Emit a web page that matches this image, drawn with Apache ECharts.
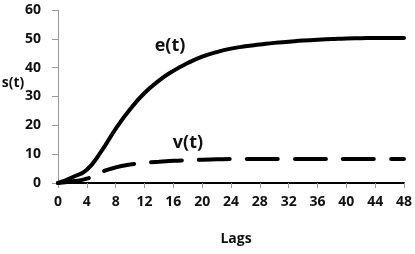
<!DOCTYPE html>
<html>
<head>
<meta charset="utf-8">
<script src="https://cdn.jsdelivr.net/npm/echarts@6/dist/echarts.min.js"></script>
<style>html,body{margin:0;padding:0;background:#fff}#c{width:415px;height:254px}</style>
</head>
<body>
<div id="c"></div>
<script>
var lags = [0,2,4,6,8,10,12,14,16,18,20,22,24,26,28,30,32,34,36,38,40,42,44,46,48];
var eValues = [0,2.0,4.6,11.0,18.8,25.6,31.2,35.5,38.9,41.6,43.8,45.4,46.6,47.4,48.0,48.6,49.0,49.4,49.7,49.9,50.1,50.2,50.3,50.3,50.3];
var vLags = [0,2,4,6,8,10,12,14,16,18,20,22,24,28,32,36,40,44,48];
var vValues = [0,0.6,1.5,3.8,5.4,6.4,7.0,7.4,7.7,7.9,8.1,8.2,8.3,8.3,8.3,8.3,8.3,8.3,8.3];
var xTicks = {min:0, max:48, step:4};
var yTicks = {min:0, max:60, step:10};
var seriesNames = ['e(t)','v(t)'];
var axisTitles = {x:'Lags', y:'s(t)'};

var font = '"Open Sans", "Liberation Sans", sans-serif';
var chart = echarts.init(document.getElementById('c'), null, {renderer:'canvas'});
chart.setOption({
  animation:false,
  grid:{left:58, right:10, top:10, bottom:71},
  xAxis:{type:'value', min:xTicks.min, max:xTicks.max, interval:xTicks.step,
    axisLine:{lineStyle:{color:'#000', width:2}},
    axisTick:{show:true, length:5, lineStyle:{color:'#999'}},
    splitLine:{show:false},
    axisLabel:{color:'#111', fontWeight:'bold', fontSize:14, fontFamily:font, margin:12}},
  yAxis:{type:'value', min:yTicks.min, max:yTicks.max, interval:yTicks.step,
    axisLine:{show:true, lineStyle:{color:'#999', width:1}},
    axisTick:{show:true, length:6, lineStyle:{color:'#999'}},
    splitLine:{show:false},
    axisLabel:{color:'#111', fontWeight:'bold', fontSize:14, fontFamily:font, margin:17}},
  series:[
    {name:seriesNames[0], type:'line', smooth:0.5, symbol:'none',
      data:lags.map(function(t,i){return [t,eValues[i]];}),
      lineStyle:{color:'#000', width:4, cap:'round'}},
    {name:seriesNames[1], type:'line', smooth:0.5, symbol:'none',
      data:vLags.map(function(t,i){return [t,vValues[i]];}),
      lineStyle:{color:'#000', width:4, type:[31,17], cap:'round'}}
  ],
  graphic:[
    {type:'text', x:170, y:46, style:{text:seriesNames[0], font:'bold 18px '+font, fill:'#111', align:'center', verticalAlign:'middle'}},
    {type:'text', x:188, y:143, style:{text:seriesNames[1], font:'bold 18px '+font, fill:'#111', align:'center', verticalAlign:'middle'}},
    {type:'text', x:13, y:83, style:{text:axisTitles.y, font:'bold 14px '+font, fill:'#111', align:'center', verticalAlign:'middle'}},
    {type:'text', x:236, y:239, style:{text:axisTitles.x, font:'bold 14px '+font, fill:'#111', align:'center', verticalAlign:'middle'}}
  ]
});
</script>
</body>
</html>
